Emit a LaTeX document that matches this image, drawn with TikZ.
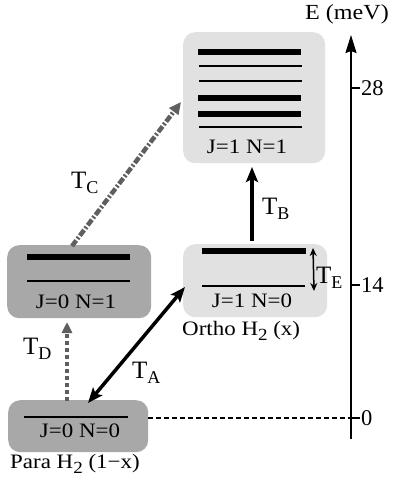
\documentclass[tikz,border=0pt]{standalone}
\usepackage{fontspec}
\setmainfont{Liberation Serif}[FakeStretch=1.12]
\newfontfamily\plainserif{Liberation Serif}
\usetikzlibrary{arrows.meta}
\definecolor{lightbox}{RGB}{225,225,225}
\definecolor{darkbox}{RGB}{168,168,168}
\definecolor{arrgray}{RGB}{95,95,95}
\newcommand{\tsub}[2]{{\plainserif\fontsize{25}{28}\selectfont #1\raisebox{-5pt}{\fontsize{18}{18}\selectfont #2}}}
\newcommand{\hsub}{H\raisebox{-5pt}{\fontsize{17}{17}\selectfont 2}}
\begin{document}
\begin{tikzpicture}[x=1pt,y=-1pt,
  lvlbox/.style={rounded corners=12pt, inner sep=0pt, anchor=north west, draw=none},
  lbl/.style={inner sep=0pt, font=\fontsize{20.5}{22}\selectfont},
  tlbl/.style={inner sep=0pt, anchor=base west},
  numlbl/.style={inner sep=0pt, anchor=west, font=\plainserif\fontsize{22.5}{24}\selectfont},
  thicklvl/.style={line width=5.5pt},
  thinlvl/.style={line width=2pt},
  bigarrow/.style={line width=4pt, -{Stealth[length=15pt,width=12pt,inset=3pt]}},
  bothbig/.style={line width=3.5pt, {Stealth[length=15pt,width=12pt,inset=3pt]}-{Stealth[length=15pt,width=12pt,inset=3pt]}},
  dotarrow/.style={line width=4pt, arrgray, dash pattern=on 4pt off 3pt, -{Triangle[length=11pt,width=10pt]}},
  dasharrow/.style={line width=4.5pt, arrgray, dash pattern=on 7pt off 2pt on 2pt off 2pt, -{Triangle[length=12pt,width=11pt]}},
  smallboth/.style={line width=1.5pt, {Stealth[length=8pt,width=7pt]}-{Stealth[length=8pt,width=7pt]}},
  axisline/.style={line width=2pt},
  tick/.style={line width=2pt}
]
\useasboundingbox (0,0) rectangle (395,480);

% boxes
\node[lvlbox, fill=lightbox, minimum width=142pt, minimum height=131pt] (top) at (183,32) {};
\node[lvlbox, fill=lightbox, minimum width=144pt, minimum height=73pt] (ortho) at (183,244) {};
\node[lvlbox, fill=darkbox, minimum width=144pt, minimum height=73pt] (pone) at (7,245) {};
\node[lvlbox, fill=darkbox, minimum width=140pt, minimum height=52pt] (para) at (8,400) {};

% levels in top box
\draw[thicklvl] (198,52) -- (301,52);
\draw[thinlvl] (199,66) -- (302,66);
\draw[thinlvl] (199,81) -- (302,81);
\draw[thicklvl] (198,98) -- (301,98);
\draw[thicklvl] (198,114) -- (301,114);
\draw[thinlvl] (199,127) -- (302,127);
% levels in ortho box
\draw[thicklvl] (202,251) -- (306,251);
\draw[thinlvl] (202,286) -- (305,286);
% levels in J=0 N=1 box
\draw[thicklvl] (27,257) -- (130,257);
\draw[thinlvl] (27,281) -- (130,281);
% level in para box
\draw[thinlvl] (24,417) -- (128,417);

% box labels
\node[lbl, anchor=base] (ltop) at (247,153) {J=1 N=1};
\node[lbl, anchor=base] (lortho) at (252,307) {J=1 N=0};
\node[lbl, anchor=base west] (northo) at (182,335) {Ortho \hsub{} (x)};
\node[lbl, anchor=base] (lpone) at (76,308) {J=0 N=1};
\node[lbl, anchor=base] (lpara) at (80,437) {J=0 N=0};
\node[lbl, anchor=base west] (npara) at (10,468) {Para \hsub{} (1\textminus x)};

% axis
\coordinate (axbot) at (351,439);
\coordinate (axtop) at (351,35);
\draw[axisline, -{Stealth[length=18pt,width=11pt,inset=2pt]}] (axbot) -- (axtop);
\node[lbl, font=\fontsize{21.5}{22}\selectfont, anchor=base] (eaxis) at (347,19) {E (meV)};
\coordinate (t28) at (351,88);
\coordinate (t14) at (351,285);
\coordinate (t0) at (351,418);
\draw[tick] (t28) -- ++(9,0) node[numlbl] (n28) {28};
\draw[tick] (t14) -- ++(9,0) node[numlbl] (n14) {14};
\draw[tick] (t0) -- ++(9,0) node[numlbl] (n0) {0};

% dashed zero line
\coordinate (z0) at (148,418);
\draw[line width=2pt, dash pattern=on 5pt off 3pt] (z0) -- (t0);

% transitions
\coordinate (ta1) at (88,403);
\coordinate (ta2) at (185,287);
\draw[bothbig] (ta1) -- (ta2);
\node[tlbl] (labA) at (132,378) {\tsub{T}{A}};

\coordinate (tb1) at (252,241);
\coordinate (tb2) at (252,167);
\draw[bigarrow] (tb1) -- (tb2);
\node[tlbl] (labB) at (262,214) {\tsub{T}{B}};

\coordinate (tc1) at (72,246);
\coordinate (tc2) at (181,102);
\draw[dasharrow] (tc1) -- (tc2);
\node[tlbl] (labC) at (71,188) {\tsub{T}{C}};

\coordinate (td1) at (67,401);
\coordinate (td2) at (67,322);
\draw[dotarrow] (td1) -- (td2);
\node[tlbl] (labD) at (23,354) {\tsub{T}{D}};

\coordinate (te1) at (313,248);
\coordinate (te2) at (314,291);
\draw[smallboth] (te1) -- (te2);
\node[tlbl] (labE) at (316,283) {\tsub{T}{E}};
\end{tikzpicture}
\end{document}
